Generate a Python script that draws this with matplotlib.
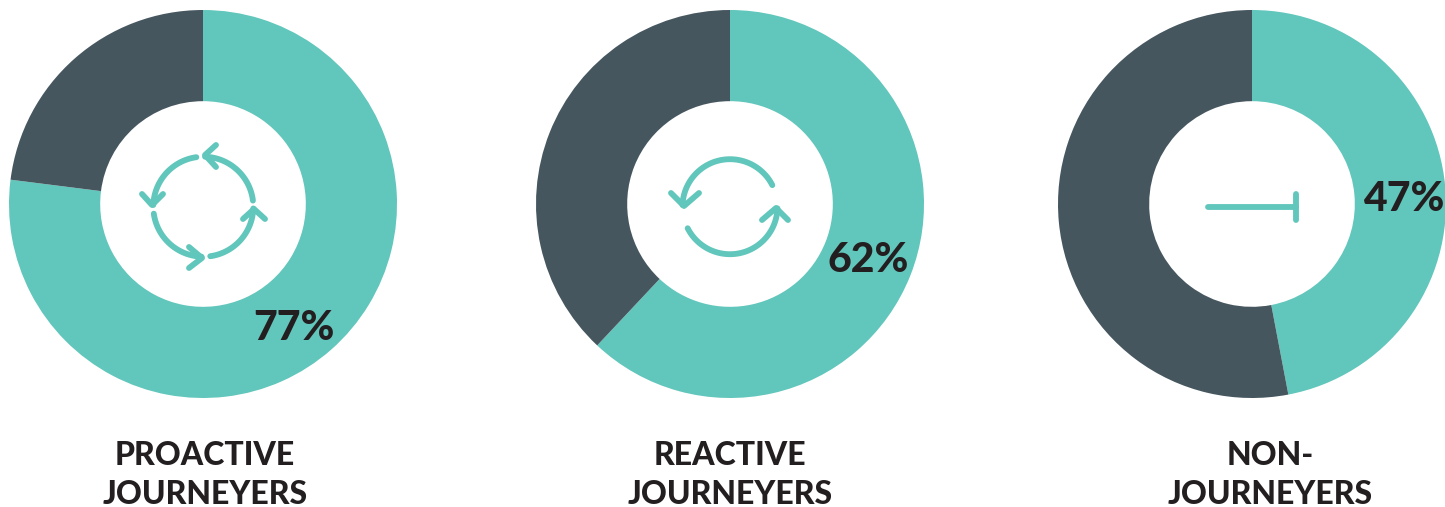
import numpy as np
import matplotlib
matplotlib.use("Agg")
import matplotlib.pyplot as plt

W, H = 1445, 507
TEAL = "#61C6BB"
DARK = "#46565F"
INK = "#231F20"

names = ["PROACTIVE\nJOURNEYERS", "REACTIVE\nJOURNEYERS", "NON-\nJOURNEYERS"]
shares = [77, 62, 47]
share_labels = ["77%", "62%", "47%"]

centers = [(203, 204), (730, 204), (1252, 204)]
radius = 194
ring = 0.47
share_pos = [(294, 328), (868, 260), (1404, 199)]
name_x = [205, 730, 1270]

plt.rcParams["font.family"] = ["Lato", "DejaVu Sans"]
fig = plt.figure(figsize=(W / 100, H / 100), dpi=100)

# one axes per donut, placed in pixels
for (cx, cy), share in zip(centers, shares):
    ax = fig.add_axes([(cx - radius) / W, 1 - (cy + radius) / H, 2 * radius / W, 2 * radius / H])
    ax.pie([share, 100 - share], colors=[TEAL, DARK], startangle=90, counterclock=False,
           radius=1, wedgeprops={"width": ring, "linewidth": 0})
    ax.set_xlim(-1, 1)
    ax.set_ylim(-1, 1)

# overlay in pixel coordinates for icons and text
top = fig.add_axes([0, 0, 1, 1])
top.set_xlim(0, W)
top.set_ylim(H, 0)
top.axis("off")
top.patch.set_alpha(0)


def stroke(xs, ys):
    top.plot(xs, ys, color=TEAL, lw=4.2, solid_capstyle="round", solid_joinstyle="round")


def arrow_arc(cx, cy, r, a0, a1, tip, barb1, barb2):
    t = np.radians(np.linspace(a0, a1, 60))
    stroke(cx + r * np.cos(t), cy - r * np.sin(t))
    stroke([barb1[0], tip[0], barb2[0]], [barb1[1], tip[1], barb2[1]])


# four arrow cycle
arrow_arc(203.3, 206.7, 50, 98, 178, (152, 205), (142, 194), (163, 194))
arrow_arc(203.3, 206.7, 50, 7, 88, (205, 155), (216, 145), (216, 167))
arrow_arc(203.3, 206.7, 50, -82, -2, (254, 209), (243, 219), (265, 219))
arrow_arc(203.3, 206.7, 50, -172, -92, (202, 258), (189, 247), (189, 268))

# two arrow cycle
arrow_arc(730, 206.7, 47.5, 27, 178, (684, 206), (671, 193), (699, 193))
arrow_arc(730, 206.7, 47.5, -153, -2, (776, 208), (762, 220), (788, 220))

# stop line
stroke([1208, 1296], [206.7, 206.7])
stroke([1296, 1296], [194, 220])

for (x, y), label in zip(share_pos, share_labels):
    top.text(x, y, label, color=INK, fontsize=29.5, fontweight="black", ha="center", va="center")

for x, name in zip(name_x, names):
    top.text(x, 475, name, color=INK, fontsize=23, fontweight="black", ha="center", va="center",
             linespacing=1.4)

fig.savefig("out.png", dpi=100)
